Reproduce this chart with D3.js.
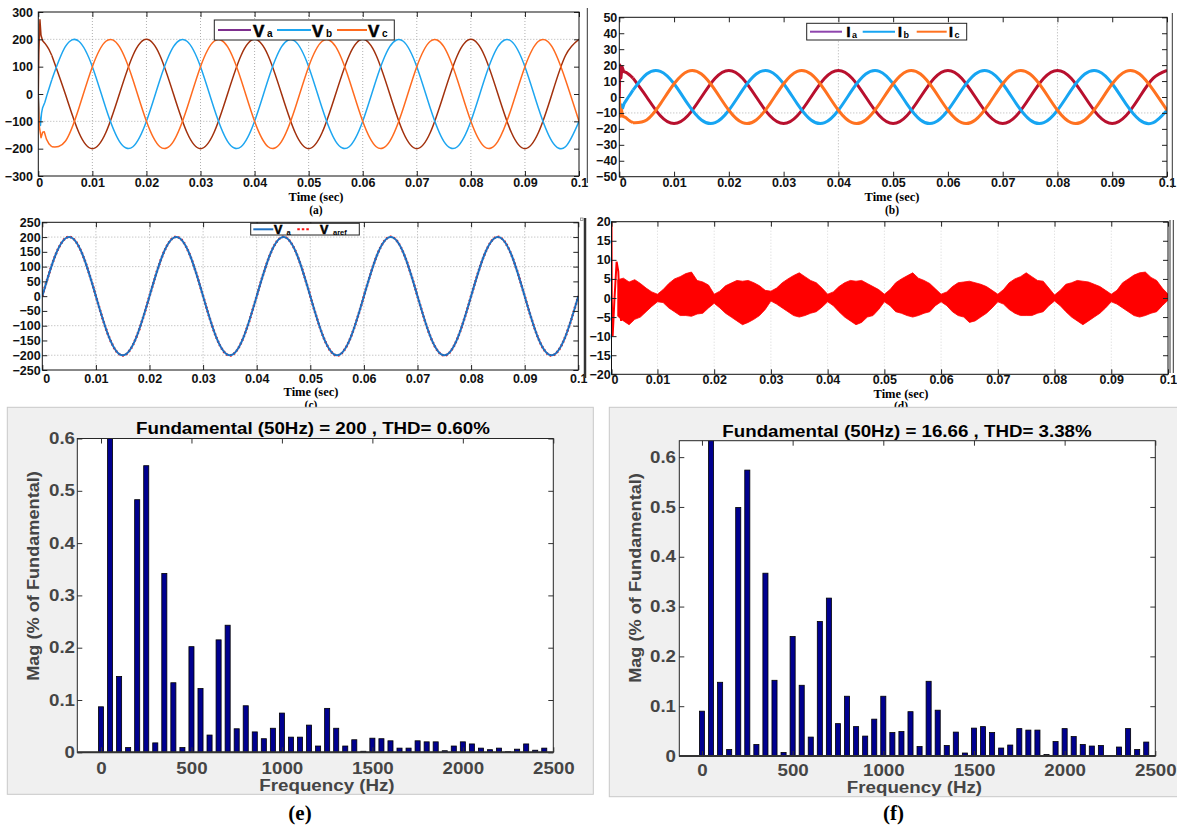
<!DOCTYPE html>
<html>
<head>
<meta charset="utf-8">
<script src="https://cdn.jsdelivr.net/npm/d3@7"></script>
<style>
  body { margin: 0; background: #fff; }
  svg { display: block; }
</style>
</head>
<body>
<svg id="fig" width="1177" height="827"></svg>
<script>
// ---- data ----

// common time grid for the sinusoidal traces (s)
const timeGrid = [
  0, 0.0025, 0.005, 0.0075, 0.01, 0.0125, 0.015, 0.0175, 0.02, 0.0225,
  0.025, 0.0275, 0.03, 0.0325, 0.035, 0.0375, 0.04, 0.0425, 0.045, 0.0475,
  0.05, 0.0525, 0.055, 0.0575, 0.06, 0.0625, 0.065, 0.0675, 0.07, 0.0725,
  0.075, 0.0775, 0.08, 0.0825, 0.085, 0.0875, 0.09, 0.0925, 0.095, 0.0975, 0.1,
]

// (a) load voltages (V)
const voltageA = [
  200, 141, 0, -141, -200, -141, 0, 141,
  200, 141, 0, -141, -200, -141, 0, 141,
  200, 141, 0, -141, -200, -141, 0, 141,
  200, 141, 0, -141, -200, -141, 0, 141,
  200, 141, 0, -141, -200, -141, 0, 141, 200,
]
const voltageB = [
  -100, 52, 173, 193, 100, -52, -173, -193,
  -100, 52, 173, 193, 100, -52, -173, -193,
  -100, 52, 173, 193, 100, -52, -173, -193,
  -100, 52, 173, 193, 100, -52, -173, -193,
  -100, 52, 173, 193, 100, -52, -173, -193, -100,
]
const voltageC = [
  -100, -193, -173, -52, 100, 193, 173, 52,
  -100, -193, -173, -52, 100, 193, 173, 52,
  -100, -193, -173, -52, 100, 193, 173, 52,
  -100, -193, -173, -52, 100, 193, 173, 52,
  -100, -193, -173, -52, 100, 193, 173, 52, -100,
]
// start-up transient, [t, v]
const voltageAStart = [[0, 0], [0.0001, 150], [0.0003, 272], [0.0005, 215], [0.0008, 195], [0.0012, 186], [0.0016, 175], [0.002, 162], [0.0025, 141]]
const voltageBStart = [[0, 0], [0.0002, -80], [0.0004, -115], [0.0006, -70], [0.0008, -50], [0.0012, -31], [0.0016, -4], [0.002, 21], [0.0025, 52]]
const voltageCStart = [[0, 0], [0.0002, -120], [0.0005, -160], [0.0008, -140], [0.0011, -138], [0.0015, -165], [0.002, -183], [0.0025, -193]]

// (b) load currents (A)
const currentA = [
  16.7, 11.8, 0, -11.8, -16.7, -11.8, 0, 11.8,
  16.7, 11.8, 0, -11.8, -16.7, -11.8, 0, 11.8,
  16.7, 11.8, 0, -11.8, -16.7, -11.8, 0, 11.8,
  16.7, 11.8, 0, -11.8, -16.7, -11.8, 0, 11.8,
  16.7, 11.8, 0, -11.8, -16.7, -11.8, 0, 11.8, 16.7,
]
const currentB = [
  -8.3, 4.3, 14.4, 16.1, 8.3, -4.3, -14.4, -16.1,
  -8.3, 4.3, 14.4, 16.1, 8.3, -4.3, -14.4, -16.1,
  -8.3, 4.3, 14.4, 16.1, 8.3, -4.3, -14.4, -16.1,
  -8.3, 4.3, 14.4, 16.1, 8.3, -4.3, -14.4, -16.1,
  -8.3, 4.3, 14.4, 16.1, 8.3, -4.3, -14.4, -16.1, -8.3,
]
const currentC = [
  -8.3, -16.1, -14.4, -4.3, 8.3, 16.1, 14.4, 4.3,
  -8.3, -16.1, -14.4, -4.3, 8.3, 16.1, 14.4, 4.3,
  -8.3, -16.1, -14.4, -4.3, 8.3, 16.1, 14.4, 4.3,
  -8.3, -16.1, -14.4, -4.3, 8.3, 16.1, 14.4, 4.3,
  -8.3, -16.1, -14.4, -4.3, 8.3, 16.1, 14.4, 4.3, -8.3,
]
const currentAStart = [[0, 0], [0.0001, 20], [0.0003, 12], [0.0005, 19], [0.0008, 16], [0.0012, 15.5], [0.0016, 14.6], [0.002, 13.5], [0.0025, 11.8]]
const currentBStart = [[0, -2], [0.0002, -10], [0.0004, -5], [0.0006, -7], [0.0009, -4], [0.0012, -2.4], [0.0016, -0.3], [0.002, 1.7], [0.0025, 4.3]]
const currentCStart = [[0, 0], [0.0002, -12], [0.0004, -8], [0.0006, -12], [0.0009, -12.5], [0.0012, -13], [0.0016, -14.2], [0.002, -15.2], [0.0025, -16.1]]

// (c) phase-a load voltage and its reference (V)
const loadVoltage = [
  0, 141, 200, 141, 0, -141, -200, -141,
  0, 141, 200, 141, 0, -141, -200, -141,
  0, 141, 200, 141, 0, -141, -200, -141,
  0, 141, 200, 141, 0, -141, -200, -141,
  0, 141, 200, 141, 0, -141, -200, -141, 0,
]
const refVoltage = [
  0, 141, 201, 141, 0, -141, -201, -141,
  0, 141, 201, 141, 0, -141, -201, -141,
  0, 141, 201, 141, 0, -141, -201, -141,
  0, 141, 201, 141, 0, -141, -201, -141,
  0, 141, 201, 141, 0, -141, -201, -141, 0,
]

// (d) tracking error envelope, time in ms
const errTimeMs = [
  3, 4, 5, 6, 7, 8, 9, 10, 11, 12, 13, 14, 15, 16, 17, 18, 19, 20, 21, 22,
  23, 24, 25, 26, 27, 28, 29, 30, 31, 32, 33, 34, 35, 36, 37, 38, 39, 40, 41, 42,
  43, 44, 45, 46, 47, 48, 49, 50, 51, 52, 53, 54, 55, 56, 57, 58, 59, 60, 61, 62,
  63, 64, 65, 66, 67, 68, 69, 70, 71, 72, 73, 74, 75, 76, 77, 78, 79, 80, 81, 82,
  83, 84, 85, 86, 87, 88, 89, 90, 91, 92, 93, 94, 95, 96, 97, 98, 99, 100,
]
const errUpper = [
  4.8, 5.2, 4.2, 4.8, 3.8, 2.6, 1.6, 1.0, 2.2, 3.8, 5.0, 5.6, 6.4, 6.8, 4.6, 4.2, 3.4, 1.0, 1.8, 3.2,
  3.9, 4.6, 4.4, 4.6, 4.0, 3.2, 2.0, 1.8, 2.6, 4.0, 5.0, 5.9, 6.6, 5.6, 4.6, 4.0, 2.6, 1.0, 1.6, 3.0,
  4.0, 4.6, 4.4, 4.6, 3.8, 3.0, 2.2, 1.0, 2.2, 4.0, 5.0, 5.8, 6.6, 5.2, 4.6, 3.8, 2.4, 1.0, 1.6, 3.0,
  4.0, 4.2, 4.4, 4.0, 3.6, 3.0, 2.0, 1.0, 2.2, 4.0, 5.0, 5.6, 6.6, 5.6, 4.6, 4.4, 2.6, 0.8, 2.0, 3.6,
  4.0, 4.6, 4.4, 4.2, 3.6, 3.0, 2.0, 1.0, 2.0, 4.0, 5.0, 6.0, 6.6, 6.8, 5.4, 4.6, 2.6, 1.0,
]
const errLower = [
  -4.8, -6.0, -7.0, -5.6, -5.0, -3.6, -2.2, -1.0, -1.2, -2.6, -3.6, -4.6, -4.6, -4.8, -4.2, -4.0, -2.6, -1.4, -2.6, -4.0,
  -5.0, -6.0, -7.0, -6.4, -5.6, -4.6, -3.0, -0.8, -1.6, -2.6, -3.6, -4.6, -5.0, -4.6, -4.0, -3.6, -2.4, -1.0, -2.0, -3.6,
  -5.0, -6.0, -7.0, -6.4, -5.0, -4.6, -3.0, -1.0, -2.0, -3.6, -4.0, -4.6, -5.0, -4.6, -4.0, -3.6, -2.0, -1.0, -2.0, -3.6,
  -4.6, -5.0, -6.4, -6.0, -5.0, -4.0, -2.6, -1.0, -1.6, -3.0, -4.0, -4.6, -4.6, -4.6, -4.0, -3.6, -2.0, -0.8, -2.0, -3.6,
  -5.0, -6.0, -7.0, -6.0, -5.0, -4.0, -2.6, -1.0, -1.6, -2.6, -3.6, -4.6, -5.0, -4.6, -4.0, -3.6, -2.0, -0.6,
]
const errStart = [[0.0019, 20], [0.00195, 0], [0.0021, -10], [0.0024, -1], [0.0028, 9.5], [0.0031, 7], [0.0034, -4], [0.0036, -6], [0.0039, 3], [0.0042, -6]]

// (e), (f) harmonic spectra, % of fundamental
const harmonicFreq = [
  0, 50, 100, 150, 200, 250, 300, 350, 400, 450,
  500, 550, 600, 650, 700, 750, 800, 850, 900, 950,
  1000, 1050, 1100, 1150, 1200, 1250, 1300, 1350, 1400, 1450,
  1500, 1550, 1600, 1650, 1700, 1750, 1800, 1850, 1900, 1950,
  2000, 2050, 2100, 2150, 2200, 2250, 2300, 2350, 2400, 2450,
]
const voltageSpectrum = [
  0.087, 100, 0.145, 0.009, 0.483, 0.548, 0.018, 0.342, 0.133, 0.009,
  0.202, 0.122, 0.033, 0.215, 0.243, 0.045, 0.089, 0.039, 0.026, 0.046,
  0.075, 0.029, 0.029, 0.052, 0.012, 0.084, 0.046, 0.012, 0.024, 0.002,
  0.027, 0.026, 0.022, 0.008, 0.008, 0.022, 0.020, 0.020, 0.003, 0.012,
  0.020, 0.016, 0.008, 0.005, 0.008, 0.001, 0.006, 0.016, 0.004, 0.008,
]
const currentSpectrum = [
  0.090, 100, 0.148, 0.013, 0.499, 0.574, 0.023, 0.367, 0.152, 0.007,
  0.240, 0.142, 0.038, 0.270, 0.317, 0.065, 0.120, 0.059, 0.040, 0.074,
  0.120, 0.047, 0.049, 0.089, 0.019, 0.150, 0.092, 0.021, 0.048, 0.006,
  0.056, 0.059, 0.047, 0.016, 0.022, 0.055, 0.052, 0.052, 0.003, 0.029,
  0.055, 0.039, 0.023, 0.020, 0.021, 0.001, 0.018, 0.055, 0.013, 0.028,
]

const timeTicks = [0, 0.01, 0.02, 0.03, 0.04, 0.05, 0.06, 0.07, 0.08, 0.09, 0.1]
const freqTicks = [0, 500, 1000, 1500, 2000, 2500]
const magTicks = [0, 0.1, 0.2, 0.3, 0.4, 0.5, 0.6]

// ---- drawing ----
const SANS = '"Liberation Sans", Arial, Helvetica, sans-serif'
const SERIF = '"Liberation Serif", "Times New Roman", serif'
const svg = d3.select('#fig')

const stretch = (sel, k) =>
  sel.each(function () {
    const len = this.getComputedTextLength()
    d3.select(this).attr('textLength', len * k).attr('lengthAdjust', 'spacingAndGlyphs')
  })

const timeFormat = d => (d === 0 ? '0' : d3.format('.2~f')(d))

function renderTimePanel({
  id, left, right, top, bottom, xDomain, yDomain, xTicks = timeTicks, yTicks,
  xFormat = timeFormat, xPad, yPad, firstShift = 0,
  vGrid = [], hGrid = [], gridColor = '#b0b0b0',
}) {
  const x = d3.scaleLinear().domain(xDomain).range([left, right])
  const y = d3.scaleLinear().domain(yDomain).range([bottom, top])
  const g = svg.append('g').attr('class', `panel-${id}`)

  g.append('clipPath').attr('id', `clip-${id}`)
    .append('rect')
    .attr('x', left).attr('y', top)
    .attr('width', right - left).attr('height', bottom - top)

  const grid = g.append('g')
    .attr('stroke', gridColor).attr('stroke-dasharray', '1,2').attr('stroke-width', 1)
  grid.selectAll('line.v').data(vGrid).join('line').attr('class', 'v')
    .attr('x1', d => x(d)).attr('x2', d => x(d)).attr('y1', top).attr('y2', bottom)
  grid.selectAll('line.h').data(hGrid).join('line').attr('class', 'h')
    .attr('x1', left).attr('x2', right).attr('y1', d => y(d)).attr('y2', d => y(d))

  const plot = g.append('g').attr('clip-path', `url(#clip-${id})`)

  const styleAxis = a => {
    a.select('.domain').remove()
    a.attr('font-family', SANS).attr('font-size', 12.5).attr('font-weight', 'bold')
    a.selectAll('text').attr('fill', '#111')
    a.selectAll('line').attr('stroke', '#222')
  }
  g.append('g').attr('transform', `translate(0,${bottom})`)
    .call(d3.axisBottom(x).tickValues(xTicks).tickFormat(xFormat).tickSize(-5).tickPadding(xPad))
    .call(styleAxis)
    .call(a => a.select('.tick text').attr('dx', firstShift))
  g.append('g').attr('transform', `translate(0,${top})`)
    .call(d3.axisTop(x).tickValues(xTicks).tickFormat('').tickSize(-5))
    .call(styleAxis)
  g.append('g').attr('transform', `translate(${left},0)`)
    .call(d3.axisLeft(y).tickValues(yTicks).tickFormat(d3.format('d')).tickSize(-5).tickPadding(yPad))
    .call(styleAxis)
  g.append('g').attr('transform', `translate(${right},0)`)
    .call(d3.axisRight(y).tickValues(yTicks).tickFormat('').tickSize(-5))
    .call(styleAxis)

  const frame = g.append('rect')
    .attr('x', left).attr('y', top)
    .attr('width', right - left).attr('height', bottom - top)
    .attr('fill', 'none').attr('stroke', '#111').attr('stroke-width', 1)

  return { g, plot, x, y, frame }
}

function drawTrace(plot, x, y, values, start, color, width, dash) {
  const steady = timeGrid.map((t, i) => [t, values[i]]).filter(d => d[0] >= (start ? 0.0025 : 0))
  if (start) {
    plot.append('path').datum(start)
      .attr('d', d3.line().x(d => x(d[0])).y(d => y(d[1])))
      .attr('fill', 'none').attr('stroke', color).attr('stroke-width', width)
      .attr('stroke-linejoin', 'round')
  }
  plot.append('path').datum(steady)
    .attr('d', d3.line().x(d => x(d[0])).y(d => y(d[1])).curve(d3.curveNatural))
    .attr('fill', 'none').attr('stroke', color).attr('stroke-width', width)
    .attr('stroke-dasharray', dash || null)
}

function caption(xc, yTime, yLetter, letter) {
  svg.append('text').attr('x', xc).attr('y', yTime).attr('text-anchor', 'middle')
    .attr('font-family', SERIF).attr('font-weight', 'bold').attr('font-size', 12.5)
    .text('Time (sec)')
  svg.append('text').attr('x', xc).attr('y', yLetter).attr('text-anchor', 'middle')
    .attr('font-family', SERIF).attr('font-weight', 'bold').attr('font-size', 11.5)
    .text(letter)
}

function legendEntry(g, { x1, x2, y, color, dash, width, label, sub, tx, sx, size, subSize, base }) {
  g.append('line').attr('x1', x1).attr('x2', x2).attr('y1', y).attr('y2', y)
    .attr('stroke', color).attr('stroke-width', width).attr('stroke-dasharray', dash || null)
  g.append('text').attr('x', tx).attr('y', base)
    .attr('font-family', SANS).attr('font-weight', 'bold').attr('font-size', size)
    .attr('stroke', '#000').attr('stroke-width', 0.6)
    .text(label)
  g.append('text').attr('x', sx).attr('y', base + 0.5)
    .attr('font-family', SANS).attr('font-weight', 'bold').attr('font-size', subSize)
    .text(sub)
}

// (a) load voltages
const pa = renderTimePanel({
  id: 'a', left: 38.3, right: 579, top: 12, bottom: 176,
  xDomain: [0, 0.1], yDomain: [-300, 300],
  yTicks: [-300, -200, -100, 0, 100, 200, 300],
  xPad: 2.3, yPad: 5.3, firstShift: 1,
  vGrid: [0.01, 0.02, 0.03, 0.04, 0.05, 0.06, 0.07, 0.08, 0.09], hGrid: [-100, 200],
})
drawTrace(pa.plot, pa.x, pa.y, voltageA, voltageAStart, '#a2310d', 1.5)
drawTrace(pa.plot, pa.x, pa.y, voltageB, voltageBStart, '#1ea6f0', 1.5)
drawTrace(pa.plot, pa.x, pa.y, voltageC, voltageCStart, '#ff6b1f', 1.5)
const legA = svg.append('g')
legA.append('rect').attr('x', 214.3).attr('y', 20).attr('width', 180).attr('height', 20)
  .attr('fill', '#fff').attr('stroke', '#222')
const legAItems = [
  { x1: 218, x2: 251, color: '#7e2f8e', sub: 'a', tx: 253, sx: 267 },
  { x1: 277, x2: 311, color: '#1ea6f0', sub: 'b', tx: 312, sx: 326 },
  { x1: 337, x2: 367, color: '#ff6b1f', sub: 'c', tx: 368, sx: 382 },
]
legAItems.forEach(d => legendEntry(legA, { ...d, y: 30, width: 2, label: 'V', size: 17, subSize: 10, base: 36.5 }))
caption(316, 201, 213.5, '(a)')

// (b) load currents
const pb = renderTimePanel({
  id: 'b', left: 619.3, right: 1167, top: 17.3, bottom: 176.7,
  xDomain: [0, 0.1], yDomain: [-50, 50],
  yTicks: [-50, -40, -30, -20, -10, 0, 10, 20, 30, 40, 50],
  xPad: 1.6, yPad: 2, firstShift: 3.4,
  vGrid: [0.04, 0.08], hGrid: [-10],
})
drawTrace(pb.plot, pb.x, pb.y, currentA, currentAStart, '#b8102e', 3)
drawTrace(pb.plot, pb.x, pb.y, currentB, currentBStart, '#17a5f2', 3)
drawTrace(pb.plot, pb.x, pb.y, currentC, currentCStart, '#ff7220', 3)
const legB = svg.append('g')
legB.append('rect').attr('x', 806.7).attr('y', 23.3).attr('width', 160).attr('height', 16.7)
  .attr('fill', '#fff').attr('stroke', '#222')
const legBItems = [
  { x1: 810, x2: 842, color: '#8e44ad', sub: 'a', tx: 846.5, sx: 852 },
  { x1: 862.7, x2: 895, color: '#17a5f2', sub: 'b', tx: 898, sx: 903.5 },
  { x1: 916.7, x2: 946.7, color: '#ff7220', sub: 'c', tx: 949, sx: 954.5 },
]
legBItems.forEach(d => legendEntry(legB, { ...d, y: 31.7, width: 2, label: 'I', size: 14, subSize: 9, base: 37 }))
caption(892, 201, 213.5, '(b)')

// (c) load voltage tracking
const pc = renderTimePanel({
  id: 'c', left: 42.3, right: 578.3, top: 222.3, bottom: 370,
  xDomain: [0, 0.1], yDomain: [-250, 250],
  yTicks: [-250, -200, -150, -100, -50, 0, 50, 100, 150, 200, 250],
  xPad: 4.3, yPad: 1.6, firstShift: 4,
  vGrid: [0.01, 0.02, 0.03, 0.04, 0.05, 0.06, 0.07, 0.08, 0.09], hGrid: [-200, -100, 100, 200],
})
drawTrace(pc.plot, pc.x, pc.y, refVoltage, null, '#ff1010', 2.6, '1.5,2.5')
drawTrace(pc.plot, pc.x, pc.y, loadVoltage, null, '#1f6fbf', 2)
const legC = svg.append('g')
legC.append('rect').attr('x', 250.7).attr('y', 223.3).attr('width', 108.6).attr('height', 11.7)
  .attr('fill', '#fff').attr('stroke', '#222')
legendEntry(legC, { x1: 253.3, x2: 273.3, y: 229.3, color: '#1f6fbf', width: 2, label: 'V', sub: 'a', tx: 274, sx: 286.5, size: 12.5, subSize: 7.5, base: 234 })
legendEntry(legC, { x1: 297.3, x2: 310, y: 229.3, color: '#ff1010', width: 2, dash: '2.5,2', label: 'V', sub: 'aref', tx: 320, sx: 333, size: 12.5, subSize: 7.5, base: 234 })
caption(311, 396, 408.5, '(c)')

// (d) voltage tracking error
const pd = renderTimePanel({
  id: 'd', left: 611.5, right: 1168, top: 221.7, bottom: 374.3,
  xDomain: [0.0019, 0.1], yDomain: [-20, 20],
  xTicks: [0.0019, 0.01, 0.02, 0.03, 0.04, 0.05, 0.06, 0.07, 0.08, 0.09, 0.1],
  xFormat: d => (d < 0.005 ? '0' : d3.format('.2~f')(d)),
  yTicks: [-20, -15, -10, -5, 0, 5, 10, 15, 20],
  xPad: 1.2, yPad: 0.8, firstShift: 3,
  vGrid: [0.01, 0.02, 0.03, 0.04, 0.05, 0.06, 0.07, 0.08, 0.09], gridColor: '#d6d6d6',
})
const errBand = errTimeMs.map((t, i) => ({ t: t / 1000, hi: errUpper[i], lo: errLower[i] }))
pd.plot.append('path').datum(errBand)
  .attr('d', d3.area().x(d => pd.x(d.t)).y0(d => pd.y(d.lo)).y1(d => pd.y(d.hi)))
  .attr('fill', '#ff0000').attr('stroke', '#ff0000').attr('stroke-width', 0.8)
pd.plot.append('path').datum(errStart)
  .attr('d', d3.line().x(d => pd.x(d[0])).y(d => pd.y(d[1])))
  .attr('fill', 'none').attr('stroke', '#ff0000').attr('stroke-width', 2)
caption(901, 397.5, 409.5, '(d)')

// figure frame fragments on the right of the upper panels
const edges = svg.append('g').attr('stroke', '#333').attr('fill', 'none')
edges.append('line').attr('x1', 587.3).attr('x2', 587.3).attr('y1', 8).attr('y2', 183)
edges.append('line').attr('x1', 1172.3).attr('x2', 1172.3).attr('y1', 13).attr('y2', 188)
edges.append('line').attr('x1', 585).attr('x2', 585).attr('y1', 218).attr('y2', 378).attr('stroke-width', 2.5)
edges.append('line').attr('x1', 1170).attr('x2', 1170).attr('y1', 220).attr('y2', 373)
edges.append('line').attr('x1', 1173.3).attr('x2', 1173.3).attr('y1', 220).attr('y2', 373)
edges.append('rect').attr('x', 580.5).attr('y', 218).attr('width', 2.5).attr('height', 2.5)
  .attr('stroke', '#888').attr('stroke-width', 0.8)

// (e), (f) FFT spectra
function renderSpectrumPanel({
  id, bg, left, right, top, bottom, xDomain, yMax, values, title, titleX, titleY,
  yLabelX, yLabelY, xLabelX, xLabelY, xPad, yPad, letter, letterX,
}) {
  const g = svg.append('g').attr('class', `panel-${id}`)
  g.append('rect').attr('x', bg[0]).attr('y', bg[1]).attr('width', bg[2] - bg[0]).attr('height', bg[3] - bg[1])
    .attr('fill', '#f0f0f0').attr('stroke', '#c9c9c9')
  g.append('rect').attr('x', left).attr('y', top).attr('width', right - left).attr('height', bottom - top)
    .attr('fill', '#fff')

  const x = d3.scaleLinear().domain(xDomain).range([left, right])
  const y = d3.scaleLinear().domain([0, yMax]).range([bottom, top])

  g.append('clipPath').attr('id', `clip-${id}`)
    .append('rect').attr('x', left).attr('y', top).attr('width', right - left).attr('height', bottom - top)

  g.append('g').attr('clip-path', `url(#clip-${id})`)
    .selectAll('rect')
    .data(harmonicFreq.map((f, i) => ({ f, v: values[i] })))
    .join('rect')
    .attr('x', d => x(d.f - 14))
    .attr('width', d => x(d.f + 14) - x(d.f - 14))
    .attr('y', d => y(Math.min(d.v, yMax * 1.02)))
    .attr('height', d => y(0) - y(Math.min(d.v, yMax * 1.02)))
    .attr('fill', '#00008f')
    .attr('stroke', '#000')
    .attr('stroke-width', 0.8)

  const styleAxis = a => {
    a.select('.domain').remove()
    a.attr('font-family', SANS).attr('font-size', 16).attr('font-weight', 'bold')
    a.selectAll('text').attr('fill', '#454545').call(stretch, 1.17)
    a.selectAll('line').attr('stroke', '#333')
  }
  g.append('g').attr('transform', `translate(0,${bottom})`)
    .call(d3.axisBottom(x).tickValues(freqTicks).tickFormat(d3.format('d')).tickSize(-5).tickPadding(xPad))
    .call(styleAxis)
  g.append('g').attr('transform', `translate(0,${top})`)
    .call(d3.axisTop(x).tickValues(freqTicks).tickFormat('').tickSize(-5))
    .call(styleAxis)
  g.append('g').attr('transform', `translate(${left},0)`)
    .call(d3.axisLeft(y).tickValues(magTicks).tickFormat(d => (d === 0 ? '0' : d3.format('.1f')(d))).tickSize(-5).tickPadding(yPad))
    .call(styleAxis)
  g.append('g').attr('transform', `translate(${right},0)`)
    .call(d3.axisRight(y).tickValues(magTicks).tickFormat('').tickSize(-5))
    .call(styleAxis)

  g.append('rect').attr('x', left).attr('y', top).attr('width', right - left).attr('height', bottom - top)
    .attr('fill', 'none').attr('stroke', '#262626').attr('stroke-width', 1)
  g.append('line').attr('x1', left).attr('x2', right).attr('y1', y(0)).attr('y2', y(0))
    .attr('stroke', '#333').attr('stroke-width', 2)

  g.append('text').attr('x', titleX).attr('y', titleY).attr('text-anchor', 'middle')
    .attr('font-family', SANS).attr('font-weight', 'bold').attr('font-size', 16).attr('fill', '#000')
    .text(title).call(stretch, 1.17)
  g.append('text').attr('transform', `translate(${yLabelX},${yLabelY}) rotate(-90)`)
    .attr('text-anchor', 'middle').attr('dy', '0.35em')
    .attr('font-family', SANS).attr('font-weight', 'bold').attr('font-size', 16.5).attr('fill', '#454545')
    .text('Mag (% of Fundamental)').call(stretch, 1.1)
  g.append('text').attr('x', xLabelX).attr('y', xLabelY).attr('text-anchor', 'middle')
    .attr('font-family', SANS).attr('font-weight', 'bold').attr('font-size', 16).attr('fill', '#454545')
    .text('Frequency (Hz)').call(stretch, 1.17)
  svg.append('text').attr('x', letterX).attr('y', 820).attr('text-anchor', 'middle')
    .attr('font-family', SERIF).attr('font-weight', 'bold').attr('font-size', 21)
    .text(letter)
}

renderSpectrumPanel({
  id: 'e', bg: [7.3, 407.3, 593.3, 794.3],
  left: 77.3, right: 553.3, top: 438.5, bottom: 752.3,
  xDomain: [-131, 2500], yMax: 0.6, values: voltageSpectrum,
  title: 'Fundamental (50Hz) = 200 , THD= 0.60%', titleX: 313, titleY: 434,
  yLabelX: 33.3, yLabelY: 576, xLabelX: 327, xLabelY: 791,
  xPad: 10.3, yPad: 2.3, letter: '(e)', letterX: 300,
})
renderSpectrumPanel({
  id: 'f', bg: [609.3, 407.3, 1178, 796.7],
  left: 679.3, right: 1155.3, top: 440.7, bottom: 756,
  xDomain: [-125, 2500], yMax: 0.633, values: currentSpectrum,
  title: 'Fundamental (50Hz) = 16.66 , THD= 3.38%', titleX: 907, titleY: 436.7,
  yLabelX: 635, yLabelY: 578, xLabelX: 914.5, xLabelY: 793,
  xPad: 9, yPad: 3.3, letter: '(f)', letterX: 893.5,
})
</script>
</body>
</html>
